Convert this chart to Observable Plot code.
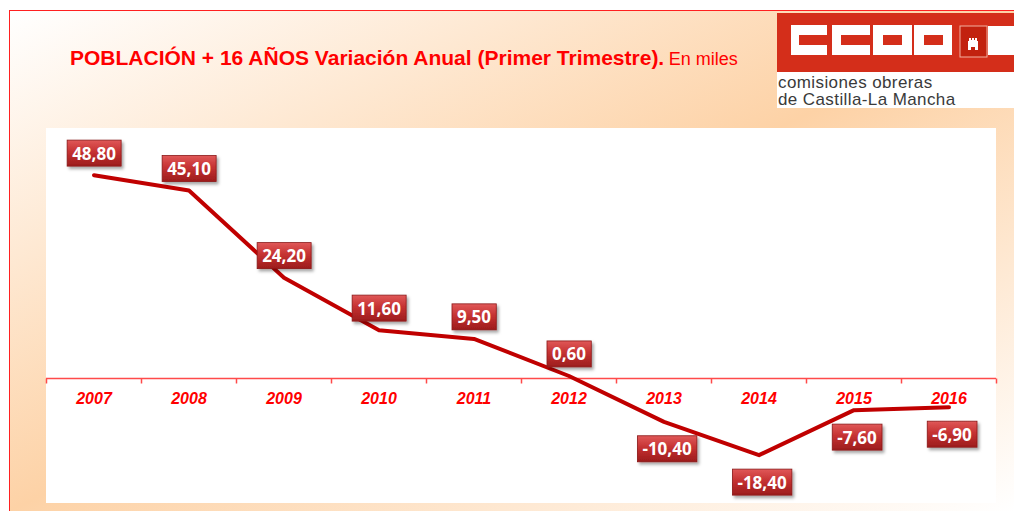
<!DOCTYPE html>
<html>
<head>
<meta charset="utf-8">
<script src="https://cdn.jsdelivr.net/npm/d3@7"></script>
<script src="https://cdn.jsdelivr.net/npm/@observablehq/plot@0.6"></script>
<style>
  html, body { margin: 0; padding: 0; background: #fff; }
  #page { position: relative; width: 1014px; height: 511px; overflow: hidden; background: #fff; font-family: "Liberation Sans", Arial, sans-serif; }
  #bg { position: absolute; left: 9px; top: 10px; right: 0; bottom: 0;
        border-left: 1.5px solid #ff2020; border-top: 1.5px solid #ff2020;
        background: linear-gradient(to bottom right, #ffffff 0%, #fdd2a6 50%, #ffffff 100%); }
  #title { position: absolute; left: 70px; top: 46px; color: #ff0000; white-space: nowrap; line-height: 24px; }
  #title b { font-size: 21px; font-weight: bold; }
  #title span { font-size: 18px; }
  #logo { position: absolute; left: 777px; top: 13px; }
  #logobox { position: absolute; left: 777px; top: 72px; width: 237px; height: 36px; background: #fff; }
  .lt { position: absolute; left: 778px; color: #3a3a3a; font-size: 17px; line-height: 17px; letter-spacing: 0.4px; white-space: nowrap; }
  #chart { position: absolute; left: 46px; top: 128px; width: 950px; height: 375px; }
  #chart svg { overflow: visible; }
</style>
</head>
<body>
<div id="page">
  <div id="bg"></div>
  <div id="title"><b>POBLACIÓN + 16 AÑOS Variación Anual (Primer Trimestre).</b> <span>En miles</span></div>
  <svg id="logo" width="237" height="59" viewBox="777 13 237 59">
    <rect x="777" y="13" width="237" height="59" fill="#d42e1a"/>
    <path fill="#fff" fill-rule="evenodd" d="M791,25h36v10h-28v10h28v10h-36z"/>
    <path fill="#fff" fill-rule="evenodd" d="M832,25h38v10h-29v10h29v10h-38z"/>
    <path fill="#fff" fill-rule="evenodd" d="M873,25h39v30h-39z M883,35v10h19v-10z"/>
    <path fill="#fff" fill-rule="evenodd" d="M914,25h38v30h-38z M924,35v10h19v-10z"/>
    <rect x="960" y="26" width="27" height="31" fill="#c2220f" stroke="#f2b0a0" stroke-width="1"/>
    <path fill="#fff" d="M968,50v-9h1v-3h2v2h1v-2h2v2h1v-2h2v3h1v9h-3v-3h-4v3z"/>
    <rect x="988" y="26" width="26" height="29" fill="#fff"/>
  </svg>
  <div id="logobox"></div>
  <div class="lt" style="top:74px">comisiones obreras</div>
  <div class="lt" style="top:91px">de Castilla-La Mancha</div>
  <div id="chart"></div>
</div>
<script>
// ---- data ----
const years = [2007, 2008, 2009, 2010, 2011, 2012, 2013, 2014, 2015, 2016];
const values = [48.8, 45.1, 24.2, 11.6, 9.5, 0.6, -10.4, -18.4, -7.6, -6.9];

const data = years.map((year, i) => ({year, value: values[i]}));
const bounds = [...years.map(y => y - 0.5), years[years.length - 1] + 0.5];
const fmt = v => v.toFixed(2).replace(".", ",");

const tickSymbol = { draw(ctx) { ctx.moveTo(0, 0); ctx.lineTo(0, 5); } };

const labelFont = "'Open Sans', 'Liberation Sans', sans-serif";

const chart = Plot.plot({
  width: 950,
  height: 375,
  margin: 0,
  style: { background: "#ffffff", overflow: "visible" },
  x: { type: "linear", domain: [2006.5, 2016.5], axis: null },
  y: { domain: [-30, 60], axis: null },
  marks: [
    Plot.ruleY([0], { stroke: "#ff4a4a", strokeWidth: 1.5 }),
    Plot.dot(bounds, { x: d => d, y: () => 0, symbol: tickSymbol, r: 3, fill: "none", stroke: "#ff4a4a", strokeWidth: 1.5 }),
    Plot.text(years, { x: d => d, y: () => 0, text: d => String(d), dy: 20, fill: "#ff0000",
      fontSize: 16, fontWeight: "bold", fontStyle: "italic", fontFamily: "'Liberation Sans', Arial, sans-serif" }),
    Plot.line(data, { x: "year", y: "value", stroke: "#c00000", strokeWidth: 4, strokeLinecap: "round", strokeLinejoin: "round" }),
    Plot.text(data.filter(d => d.value >= 0), { x: "year", y: "value", text: d => fmt(d.value), dy: -21,
      fill: "#ffffff", fontSize: 17, fontWeight: "bold", fontFamily: labelFont }),
    Plot.text(data.filter(d => d.value < 0), { x: "year", y: "value", text: d => fmt(d.value), dy: 28, dx: 3,
      fill: "#ffffff", fontSize: 17, fontWeight: "bold", fontFamily: labelFont })
  ]
});
document.getElementById("chart").appendChild(chart);

// add label boxes behind value labels (white texts)
const svgNS = "http://www.w3.org/2000/svg";
const defs = document.createElementNS(svgNS, "defs");
defs.innerHTML = `
  <linearGradient id="boxg" x1="0" y1="0" x2="0" y2="1">
    <stop offset="0%" stop-color="#e05858"/>
    <stop offset="45%" stop-color="#c53232"/>
    <stop offset="100%" stop-color="#9c1c1c"/>
  </linearGradient>
  <filter id="shadow" x="-20%" y="-20%" width="150%" height="160%">
    <feDropShadow dx="2" dy="2.5" stdDeviation="1.5" flood-color="#000" flood-opacity="0.35"/>
  </filter>`;
chart.insertBefore(defs, chart.firstChild);
Array.from(chart.querySelectorAll("text"))
  .filter(t => getComputedStyle(t).fill === "rgb(255, 255, 255)")
  .forEach(t => {
    const b = t.getBBox();
    const cy = b.y + b.height / 2;
    const w = b.width + 10, h = 26;
    const r = document.createElementNS(svgNS, "rect");
    r.setAttribute("x", b.x + b.width / 2 - w / 2);
    r.setAttribute("y", cy - h / 2);
    r.setAttribute("width", w);
    r.setAttribute("height", h);
    r.setAttribute("fill", "url(#boxg)");
    r.setAttribute("stroke", "#8a1818");
    r.setAttribute("stroke-width", "0.8");
    r.setAttribute("filter", "url(#shadow)");
    const tr = t.getAttribute("transform");
    if (tr) r.setAttribute("transform", tr);
    t.parentNode.insertBefore(r, t);
  });
</script>
</body>
</html>
